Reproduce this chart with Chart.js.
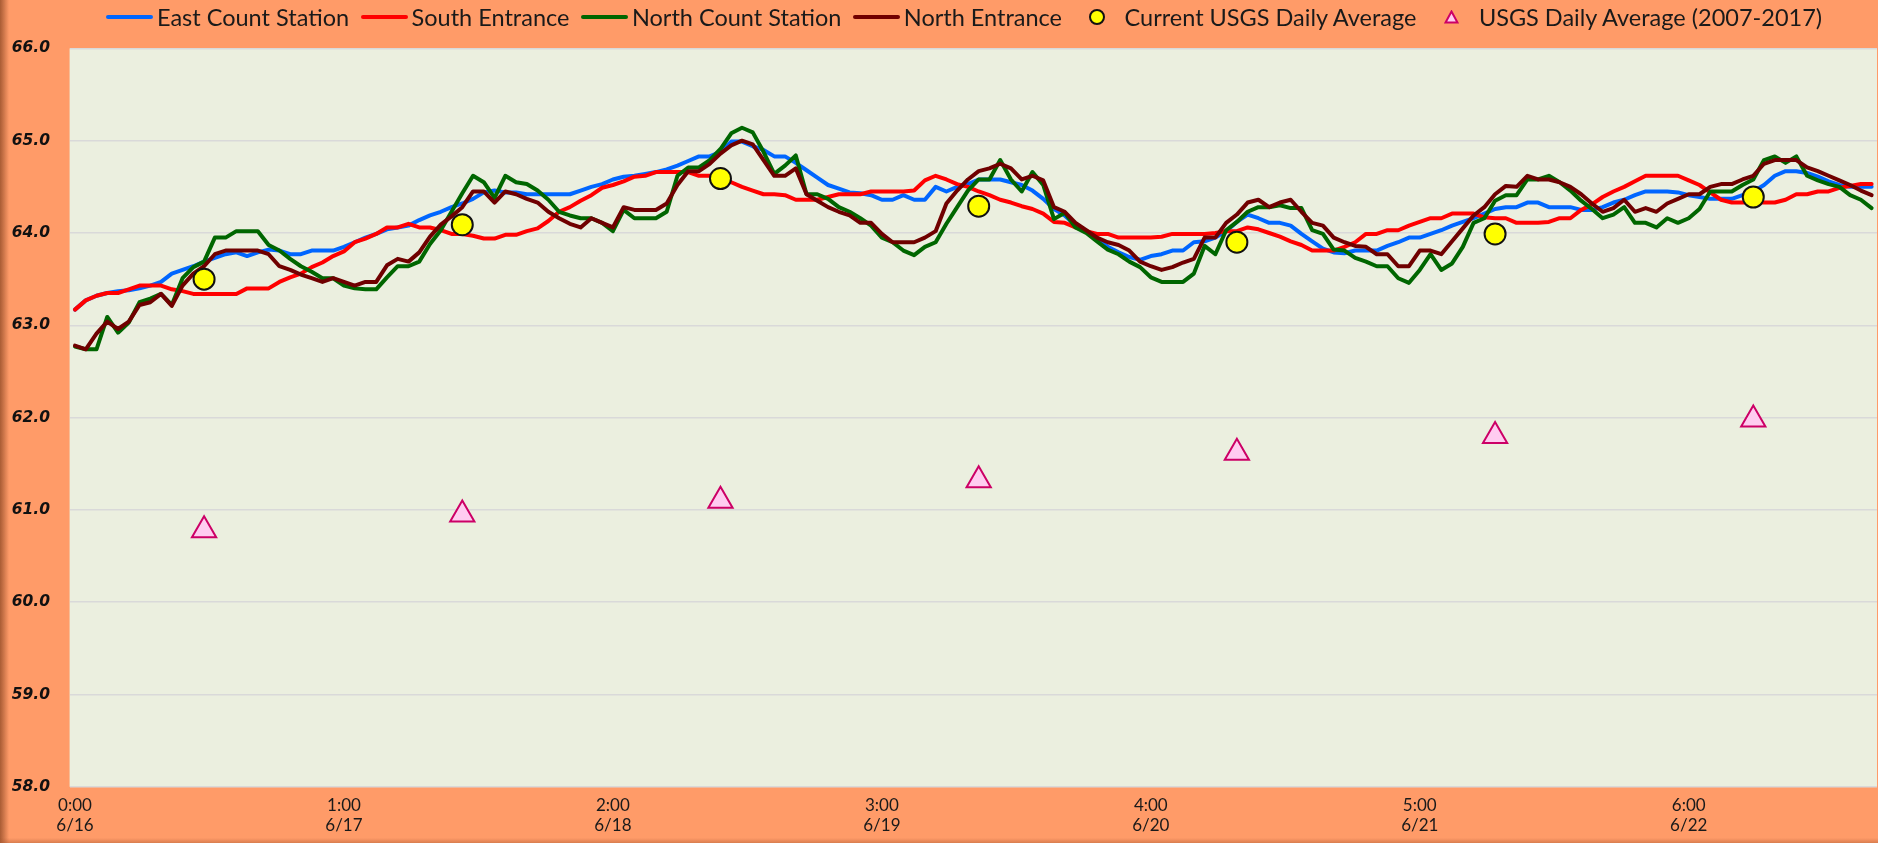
<!DOCTYPE html>
<html>
<head>
<meta charset="utf-8">
<title>Water temperature</title>
<script src="https://cdn.jsdelivr.net/npm/chart.js@4.4.1/dist/chart.umd.min.js"></script>
<style>
  html, body { margin: 0; padding: 0; }
  body {
    width: 1878px; height: 843px; overflow: hidden; position: relative;
    background: #FF9B68;
  }
  #chart { position: absolute; left: 0; top: 0; }
  .edge-left {
    position: absolute; left: 0; top: 0; width: 9px; height: 843px;
    background: linear-gradient(to right, rgba(140, 70, 35, 0.75), rgba(255, 155, 104, 0));
  }
  .edge-bottom {
    position: absolute; left: 0; bottom: 0; width: 1878px; height: 5px;
    background: linear-gradient(to top, rgba(170, 90, 50, 0.45), rgba(255, 155, 104, 0));
  }
  #legend {
    position: absolute; left: 106px; top: 4px; height: 26px;
    display: flex; align-items: center; white-space: nowrap;
    font-family: Lato, sans-serif; font-size: 23.5px; color: #1a1a1a;
  }
  .item { display: flex; align-items: center; margin-right: 11.5px; }
  .sample { width: 47px; height: 26px; display: flex; align-items: center; justify-content: center; }
  .ln { width: 47px; height: 4px; border-radius: 2px; }
  .dot { width: 12px; height: 12px; border-radius: 50%; background: #FFFF00; border: 2px solid #111; }
  .txt { margin-left: 4px; }
</style>
</head>
<body>
<!-- canvas is a little wider than the window: the plot runs off the right edge like the original -->
<canvas id="chart" width="1893" height="843"></canvas>
<div class="edge-left"></div>
<div class="edge-bottom"></div>
<div id="legend"></div>
<script>
// Categories: hourly readings, 6/16 0:00 through 6/22 23:00
const dayLabels = ['6/16', '6/17', '6/18', '6/19', '6/20', '6/21', '6/22'];
const times = [];
dayLabels.forEach(d => {
    for (let h = 0; h < 24; h++) times.push(d + ' ' + h + ':00');
});

// Axis labels are shown every 25th category
const tickEvery = 25;
const tickLabels = [
    ['0:00', '6/16'], ['1:00', '6/17'], ['2:00', '6/18'], ['3:00', '6/19'],
    ['4:00', '6/20'], ['5:00', '6/21'], ['6:00', '6/22']
];

const eastCount = [
    63.17, 63.27, 63.32, 63.35, 63.37, 63.38, 63.40, 63.43, 63.47, 63.56,
    63.60, 63.64, 63.69, 63.73, 63.77, 63.79, 63.75, 63.79, 63.82, 63.81,
    63.77, 63.77, 63.81, 63.81, 63.81, 63.85, 63.90, 63.95, 63.99, 64.04,
    64.06, 64.08, 64.14, 64.19, 64.23, 64.28, 64.32, 64.37, 64.44, 64.46,
    64.44, 64.44, 64.42, 64.42, 64.42, 64.42, 64.42, 64.46, 64.50, 64.53,
    64.58, 64.61, 64.62, 64.64, 64.66, 64.69, 64.73, 64.78, 64.83, 64.83,
    64.88, 64.99, 64.99, 64.94, 64.90, 64.83, 64.83, 64.76, 64.68, 64.60,
    64.52, 64.48, 64.44, 64.43, 64.41, 64.36, 64.36, 64.41, 64.36, 64.36,
    64.50, 64.45, 64.50, 64.53, 64.58, 64.58, 64.58, 64.55, 64.52, 64.46,
    64.37, 64.26, 64.19, 64.08, 64.02, 63.94, 63.85, 63.79, 63.74, 63.71,
    63.75, 63.77, 63.81, 63.81, 63.90, 63.91, 63.95, 64.02, 64.12, 64.20,
    64.16, 64.11, 64.11, 64.08, 63.99, 63.91, 63.83, 63.79, 63.78, 63.81,
    63.81, 63.81, 63.86, 63.90, 63.95, 63.95, 63.99, 64.03, 64.08, 64.12,
    64.16, 64.21, 64.26, 64.28, 64.28, 64.33, 64.33, 64.28, 64.28, 64.28,
    64.25, 64.25, 64.28, 64.33, 64.36, 64.41, 64.45, 64.45, 64.45, 64.44,
    64.41, 64.39, 64.37, 64.37, 64.37, 64.41, 64.45, 64.52, 64.62, 64.67,
    64.67, 64.65, 64.61, 64.56, 64.52, 64.50, 64.50, 64.50
];

const southEntrance = [
    63.17, 63.27, 63.32, 63.35, 63.35, 63.39, 63.43, 63.43, 63.43, 63.39,
    63.37, 63.34, 63.34, 63.34, 63.34, 63.34, 63.40, 63.40, 63.40, 63.47,
    63.52, 63.56, 63.63, 63.68, 63.75, 63.80, 63.90, 63.94, 63.99, 64.06,
    64.06, 64.10, 64.06, 64.06, 64.03, 63.99, 63.99, 63.97, 63.94, 63.94,
    63.98, 63.98, 64.02, 64.05, 64.13, 64.23, 64.28, 64.35, 64.41, 64.49,
    64.52, 64.56, 64.61, 64.62, 64.66, 64.66, 64.66, 64.66, 64.62, 64.62,
    64.59, 64.55, 64.50, 64.46, 64.42, 64.42, 64.41, 64.36, 64.36, 64.36,
    64.39, 64.42, 64.42, 64.42, 64.45, 64.45, 64.45, 64.45, 64.46, 64.57,
    64.62, 64.58, 64.53, 64.50, 64.45, 64.41, 64.36, 64.33, 64.29, 64.26,
    64.21, 64.12, 64.11, 64.06, 64.02, 63.99, 63.99, 63.95, 63.95, 63.95,
    63.95, 63.96, 63.99, 63.99, 63.99, 63.99, 64.00, 64.02, 64.02, 64.06,
    64.04, 64.00, 63.96, 63.91, 63.87, 63.81, 63.81, 63.81, 63.85, 63.90,
    63.99, 63.99, 64.03, 64.03, 64.08, 64.12, 64.16, 64.16, 64.21, 64.21,
    64.21, 64.17, 64.16, 64.16, 64.11, 64.11, 64.11, 64.12, 64.16, 64.16,
    64.25, 64.31, 64.39, 64.45, 64.50, 64.56, 64.62, 64.62, 64.62, 64.62,
    64.57, 64.52, 64.44, 64.36, 64.33, 64.33, 64.33, 64.33, 64.33, 64.36,
    64.42, 64.42, 64.45, 64.45, 64.49, 64.51, 64.53, 64.53
];

const northCount = [
    62.77, 62.74, 62.74, 63.09, 62.92, 63.03, 63.25, 63.29, 63.34, 63.22,
    63.51, 63.63, 63.69, 63.95, 63.95, 64.02, 64.02, 64.02, 63.87, 63.81,
    63.72, 63.64, 63.58, 63.51, 63.51, 63.43, 63.40, 63.39, 63.39, 63.52,
    63.64, 63.64, 63.69, 63.88, 64.03, 64.23, 64.43, 64.62, 64.55, 64.38,
    64.62, 64.55, 64.53, 64.46, 64.36, 64.23, 64.19, 64.16, 64.16, 64.11,
    64.02, 64.25, 64.16, 64.16, 64.16, 64.23, 64.62, 64.71, 64.71, 64.79,
    64.91, 65.08, 65.14, 65.09, 64.88, 64.64, 64.73, 64.84, 64.42, 64.42,
    64.37, 64.28, 64.23, 64.16, 64.08, 63.95, 63.90, 63.81, 63.76, 63.85,
    63.90, 64.10, 64.28, 64.46, 64.58, 64.58, 64.79, 64.58, 64.45, 64.66,
    64.52, 64.15, 64.22, 64.06, 64.00, 63.91, 63.82, 63.77, 63.69, 63.63,
    63.52, 63.47, 63.47, 63.47, 63.56, 63.86, 63.77, 64.03, 64.12, 64.23,
    64.28, 64.28, 64.30, 64.27, 64.27, 64.03, 63.99, 63.82, 63.81, 63.73,
    63.69, 63.64, 63.64, 63.51, 63.46, 63.60, 63.77, 63.60, 63.67, 63.85,
    64.11, 64.16, 64.35, 64.41, 64.41, 64.58, 64.58, 64.62, 64.55, 64.46,
    64.35, 64.26, 64.16, 64.20, 64.28, 64.11, 64.11, 64.06, 64.16, 64.11,
    64.16, 64.26, 64.45, 64.45, 64.45, 64.52, 64.58, 64.79, 64.83, 64.76,
    64.83, 64.62, 64.57, 64.53, 64.50, 64.41, 64.36, 64.27
];

const northEntrance = [
    62.78, 62.74, 62.91, 63.04, 62.96, 63.04, 63.22, 63.25, 63.34, 63.21,
    63.43, 63.56, 63.64, 63.77, 63.81, 63.81, 63.81, 63.81, 63.77, 63.64,
    63.60, 63.55, 63.51, 63.47, 63.51, 63.47, 63.43, 63.47, 63.47, 63.65,
    63.72, 63.69, 63.79, 63.96, 64.09, 64.18, 64.28, 64.45, 64.45, 64.33,
    64.45, 64.42, 64.37, 64.33, 64.23, 64.16, 64.10, 64.06, 64.16, 64.11,
    64.06, 64.28, 64.25, 64.25, 64.25, 64.32, 64.52, 64.67, 64.67, 64.75,
    64.86, 64.95, 65.00, 64.96, 64.79, 64.62, 64.62, 64.70, 64.42, 64.35,
    64.28, 64.23, 64.19, 64.11, 64.11, 63.99, 63.90, 63.90, 63.90, 63.95,
    64.02, 64.32, 64.46, 64.58, 64.67, 64.70, 64.75, 64.70, 64.58, 64.62,
    64.57, 64.28, 64.23, 64.11, 64.03, 63.95, 63.90, 63.87, 63.81, 63.69,
    63.64, 63.60, 63.63, 63.68, 63.72, 63.95, 63.95, 64.11, 64.20, 64.33,
    64.36, 64.28, 64.33, 64.36, 64.23, 64.11, 64.08, 63.95, 63.90, 63.86,
    63.85, 63.77, 63.77, 63.64, 63.64, 63.81, 63.81, 63.77, 63.91, 64.05,
    64.19, 64.28, 64.42, 64.51, 64.50, 64.62, 64.58, 64.58, 64.55, 64.50,
    64.42, 64.32, 64.23, 64.27, 64.36, 64.23, 64.27, 64.23, 64.32, 64.37,
    64.42, 64.42, 64.50, 64.53, 64.53, 64.58, 64.62, 64.75, 64.79, 64.79,
    64.79, 64.71, 64.67, 64.62, 64.57, 64.52, 64.46, 64.41
];

// Daily averages, plotted at noon of each day
const usgsTimes = ['6/16 12:00', '6/17 12:00', '6/18 12:00', '6/19 12:00', '6/20 12:00', '6/21 12:00', '6/22 12:00'];
const usgsCurrent = [63.50, 64.09, 64.59, 64.29, 63.90, 63.99, 64.39];
const usgsHistoric = [60.78, 60.95, 61.10, 61.32, 61.62, 61.80, 61.98];

const seriesLines = [
    { label: 'East Count Station', data: eastCount, color: '#0066FF' },
    { label: 'South Entrance', data: southEntrance, color: '#FF0000' },
    { label: 'North Count Station', data: northCount, color: '#006600' },
    { label: 'North Entrance', data: northEntrance, color: '#700000' }
];

// Plot area fill
const plotBackground = {
    id: 'plotBackground',
    beforeDraw(chart) {
        const { ctx, chartArea } = chart;
        ctx.save();
        ctx.fillStyle = '#EBEFDF';
        ctx.fillRect(chartArea.left, chartArea.top, chartArea.width, chartArea.height);
        ctx.restore();
    }
};

const datasets = seriesLines.map((s, i) => ({
    label: s.label,
    data: s.data,
    borderColor: s.color,
    backgroundColor: s.color,
    borderWidth: 4,
    borderJoinStyle: 'round',
    borderCapStyle: 'round',
    pointRadius: 0,
    tension: 0,
    order: 10 - i
}));

datasets.push({
    label: 'Current USGS Daily Average',
    data: usgsTimes.map((t, i) => ({ x: t, y: usgsCurrent[i] })),
    showLine: false,
    pointStyle: 'circle',
    pointRadius: 10.5,
    pointBackgroundColor: '#FFFF00',
    pointBorderColor: '#111111',
    pointBorderWidth: 2,
    order: 2
});

datasets.push({
    label: 'USGS Daily Average (2007-2017)',
    data: usgsTimes.map((t, i) => ({ x: t, y: usgsHistoric[i] })),
    showLine: false,
    pointStyle: 'triangle',
    pointRadius: 14,
    pointBackgroundColor: '#FFCCF0',
    pointBorderColor: '#CC0066',
    pointBorderWidth: 2,
    order: 1
});

new Chart(document.getElementById('chart'), {
    type: 'line',
    data: { labels: times, datasets: datasets },
    options: {
        responsive: false,
        animation: false,
        layout: { padding: { top: 48.4, left: 11.6, right: 0, bottom: 0 } },
        plugins: {
            legend: { display: false },
            tooltip: { enabled: false }
        },
        scales: {
            x: {
                type: 'category',
                offset: true,
                grid: { display: false, drawTicks: false },
                border: { display: false },
                ticks: {
                    autoSkip: false,
                    maxRotation: 0,
                    minRotation: 0,
                    padding: 9,
                    color: '#1a1a1a',
                    font: { family: 'Lato', size: 17, lineHeight: 1.15 },
                    callback: function(value, index) {
                        return index % tickEvery === 0 ? tickLabels[index / tickEvery] : '';
                    }
                },
                afterFit: function(scale) { scale.height = 56.2; }
            },
            y: {
                min: 58,
                max: 66,
                grid: { color: '#D9D9D9', lineWidth: 1.5, drawTicks: false },
                border: { display: false },
                ticks: {
                    stepSize: 1,
                    padding: 19.6,
                    color: '#111111',
                    font: { family: 'DejaVu Sans', size: 15.5, style: 'italic', weight: 'bold' },
                    callback: function(value) { return value.toFixed(1); }
                },
                afterFit: function(scale) { scale.width = 58; }
            }
        }
    },
    plugins: [plotBackground]
});

// Legend drawn as HTML, in the series order
const legend = document.getElementById('legend');
seriesLines.forEach(s => {
    legend.insertAdjacentHTML('beforeend',
        '<div class="item"><span class="sample"><span class="ln" style="background:' + s.color +
        '"></span></span><span class="txt">' + s.label + '</span></div>');
});
legend.insertAdjacentHTML('beforeend',
    '<div class="item"><span class="sample"><span class="dot"></span></span><span class="txt">Current USGS Daily Average</span></div>');
legend.insertAdjacentHTML('beforeend',
    '<div class="item"><span class="sample"><svg width="15" height="14" viewBox="0 0 15 14">' +
    '<polygon points="7.5,1.5 13.5,12.5 1.5,12.5" fill="#FFCCF0" stroke="#CC0066" stroke-width="2"/></svg></span>' +
    '<span class="txt">USGS Daily Average (2007-2017)</span></div>');
</script>
</body>
</html>
